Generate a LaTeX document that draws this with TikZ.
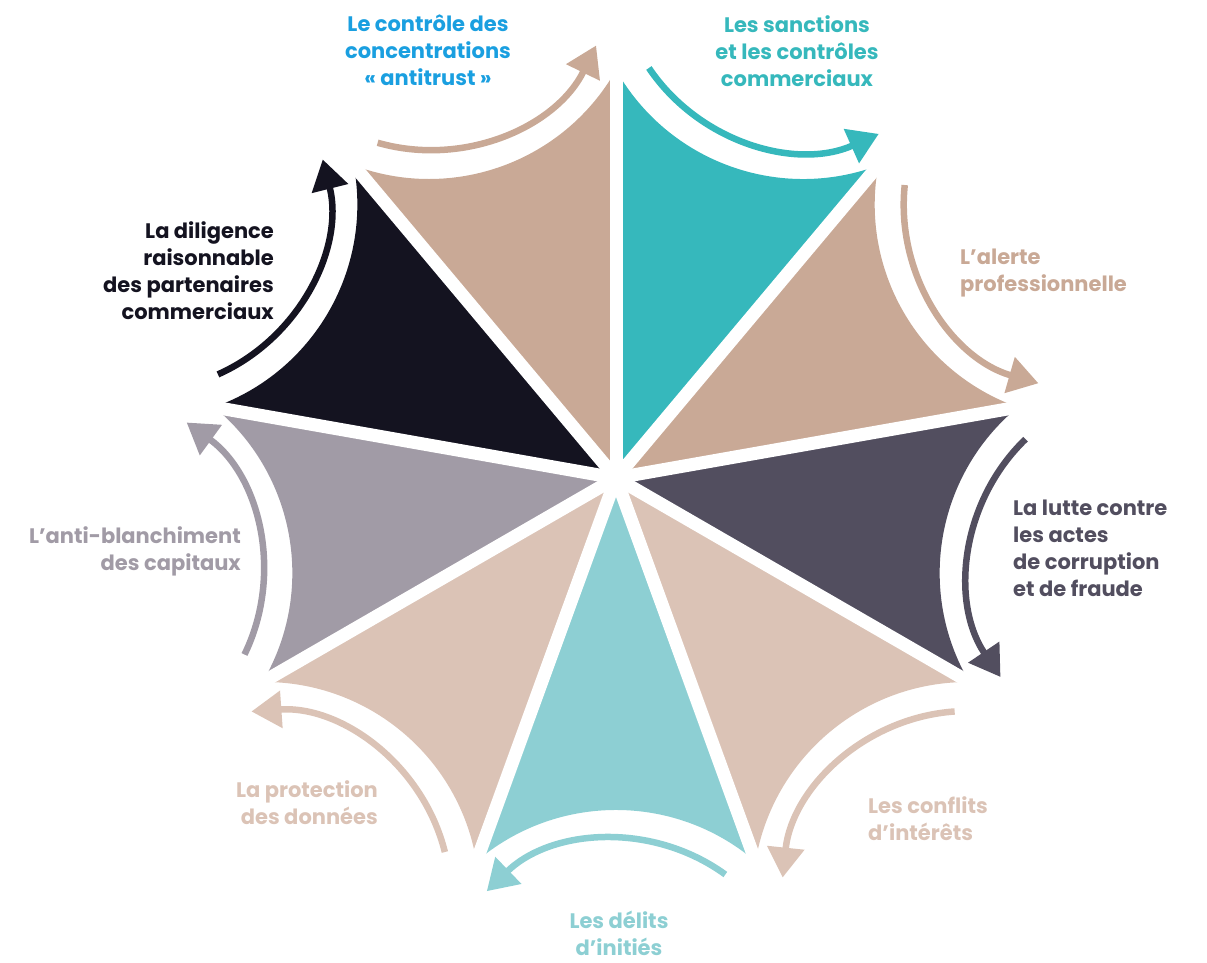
\documentclass[tikz,border=0pt]{standalone}
\usepackage{fontspec}
\setmainfont{Poppins}
\usetikzlibrary{arrows.meta}
\definecolor{ctan}{HTML}{C9A996}
\definecolor{cteal}{HTML}{36B8BC}
\definecolor{cslate}{HTML}{524E5F}
\definecolor{cltan}{HTML}{DBC3B6}
\definecolor{clteal}{HTML}{8DCFD3}
\definecolor{cgrey}{HTML}{A19BA6}
\definecolor{cblack}{HTML}{141320}
\definecolor{cblue}{HTML}{1A9FE0}
\tikzset{
  lbl/.style={font=\bfseries\fontsize{21}{27}\selectfont, inner sep=0pt},
  gapline/.style={white, line width=13pt},
  ringarrow/.style={line width=6.5pt, -{Triangle[length=30pt,width=36pt]}}
}
\begin{document}
\begin{tikzpicture}[x=1pt,y=1pt]
\useasboundingbox (0,0) rectangle (1207,963);
\coordinate (O) at (616,485);
% segments
\foreach \a/\c in {110/ctan,70/cteal,30/ctan,-10/cslate,-50/cltan,-90/clteal,-130/cltan,-170/cgrey,150/cblack}{
  \fill[\c, shift={(O)}, rotate=\a] (0,0) -- (20:408.1) arc[start angle=139.5, end angle=220.5, radius=215] -- cycle;
}
% white gaps
\foreach \g in {90,50,10,-30,-70,-110,-150,170,130}{
  \draw[gapline] (O) -- ++(\g:414);
}
% arrows
\foreach \a/\c in {110/ctan,70/cteal,30/ctan,-10/cslate,-50/cltan,-90/clteal,-130/cltan,-170/cgrey,150/cblack}{
  \draw[ringarrow, \c, shift={(O)}, rotate=\a] ([shift={(547,0)}]144:186) arc[start angle=144, end angle=224, radius=186];
}
% labels
\node[lbl, text=cblue, align=center, anchor=north] (t1) at (428,948) {Le contrôle des\\concentrations\\« antitrust »};
\node[lbl, text=cteal, align=center, anchor=north] (t2) at (797,948) {Les sanctions\\et les contrôles\\commerciaux};
\node[lbl, text=ctan, align=left, anchor=north west] (t3) at (960,714) {L’alerte\\professionnelle};
\node[lbl, text=cslate, align=left, anchor=north west] (t4) at (1013,463) {La lutte contre\\les actes\\de corruption\\et de fraude};
\node[lbl, text=cltan, align=left, anchor=north west] (t5) at (868,167) {Les conflits\\d’intérêts};
\node[lbl, text=clteal, align=center, anchor=north] (t6) at (619,52) {Les délits\\d’initiés};
\node[lbl, text=cltan, align=right, anchor=north east] (t7) at (378,183) {La protection\\des données};
\node[lbl, text=cgrey, align=right, anchor=north east] (t8) at (241,437) {L’anti-blanchiment\\des capitaux};
\node[lbl, text=cblack, align=right, anchor=north east] (t9) at (274,742) {La diligence\\raisonnable\\des partenaires\\commerciaux};
\end{tikzpicture}
\end{document}
